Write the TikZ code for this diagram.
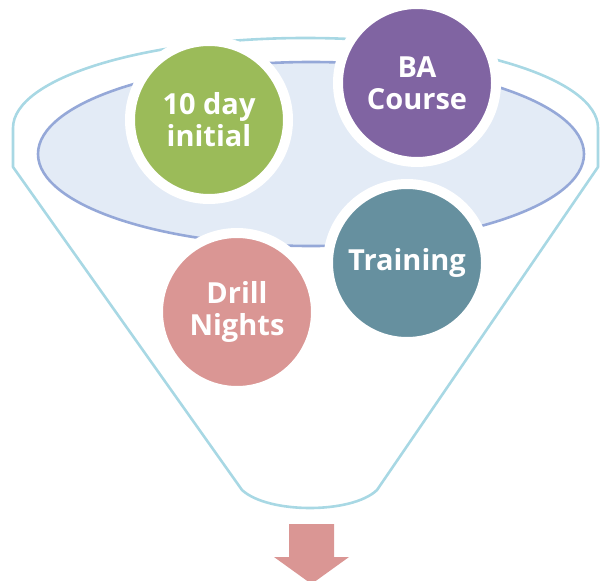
\documentclass[tikz,border=0pt]{standalone}
\usepackage{fontspec}
\setmainfont{Open Sans}
\definecolor{funnelline}{HTML}{A8D8E4}
\definecolor{rimline}{HTML}{95A8D8}
\definecolor{rimfill}{HTML}{E3EBF6}
\definecolor{cgreen}{HTML}{9BBB59}
\definecolor{cpurple}{HTML}{8064A2}
\definecolor{cteal}{HTML}{66909F}
\definecolor{cpink}{HTML}{DA9694}
\begin{document}
\begin{tikzpicture}[x=1pt,y=-1pt,
  funnel/.style={draw=funnelline, line width=2.6pt, line join=round},
  rim/.style={draw=rimline, fill=rimfill, line width=2.6pt},
  bubble/.style={circle, minimum size=158pt, inner sep=0pt, draw=white, line width=10pt,
    text=white, font=\fontsize{29}{32}\selectfont\bfseries, align=center},
  arrowshape/.style={fill=cpink, draw=none}]
\useasboundingbox (0,0) rectangle (604,580);
% funnel outline
\draw[funnel] (13,167) -- (13,128) arc[start angle=180, end angle=360, x radius=292.5, y radius=90]
  -- (598,167) -- (377,490) .. controls (352,514) and (268,514) .. (242,490) -- cycle;
% inner rim ellipse
\path[rim] (311,154) ellipse[x radius=273, y radius=92];
% bubbles
\node[bubble, fill=cgreen] (initial) at (209,120) {10 day\\initial};
\node[bubble, fill=cpurple] (course) at (417,83) {BA\\Course};
\node[bubble, fill=cteal] (training) at (407,263) {Training};
\node[bubble, fill=cpink] (drill) at (237,312) {Drill\\Nights};
% output arrow
\path[arrowshape] (289,524) -- (334,524) -- (334,557) -- (349,557) -- (311.5,584) -- (274,557) -- (289,557) -- cycle;
\end{tikzpicture}
\end{document}
